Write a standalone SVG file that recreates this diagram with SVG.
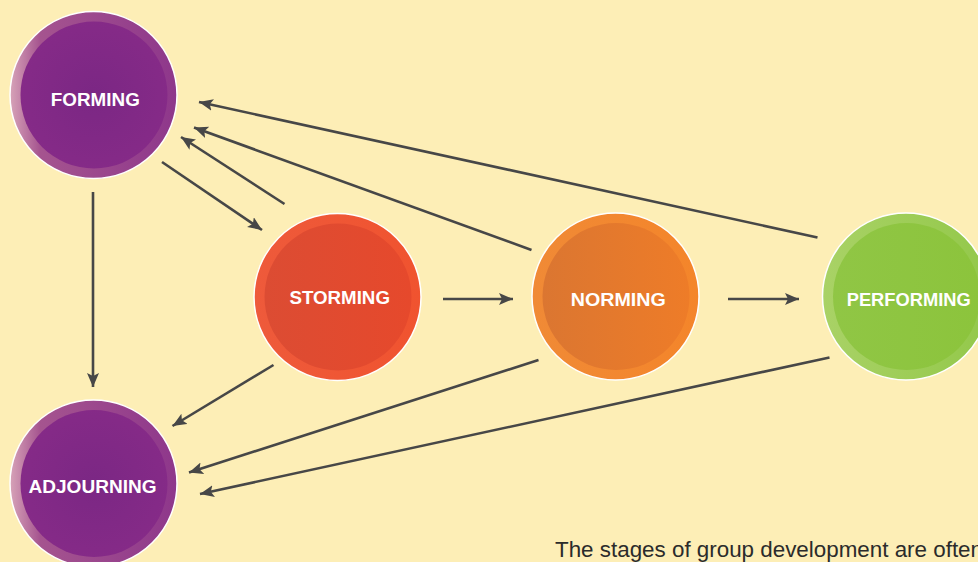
<svg xmlns="http://www.w3.org/2000/svg" width="978" height="562" viewBox="0 0 978 562">
<defs>
<style>
.lbl{font-family:"Liberation Sans",Arial,sans-serif;font-weight:bold;font-size:18.5px;fill:#ffffff;text-anchor:middle}
.cap{font-family:"Liberation Sans",Arial,sans-serif;font-size:21.5px;fill:#2b2b2b}
.con{stroke:#474747;stroke-width:2.6;fill:none;marker-end:url(#ah)}
.edge{stroke:#ffffff;stroke-width:1.5}
</style>
<marker id="ah" markerUnits="userSpaceOnUse" markerWidth="16" markerHeight="14" refX="14" refY="6" orient="auto">
<path d="M0,0 L14,6 L0,12 L3,6 Z" fill="#474747"/>
</marker>
<linearGradient id="pO" x1="0" y1="0" x2="1" y2="0">
<stop offset="0" stop-color="#d7a3b8"/><stop offset="0.18" stop-color="#a5548f"/><stop offset="1" stop-color="#8e378b"/>
</linearGradient>
<radialGradient id="pI" cx="0.5" cy="0.5" r="0.6">
<stop offset="0" stop-color="#7b2784"/><stop offset="1" stop-color="#872b88"/>
</radialGradient>
<linearGradient id="sO" x1="0" y1="0" x2="1" y2="0">
<stop offset="0" stop-color="#ee5a3b"/><stop offset="1" stop-color="#f0532f"/>
</linearGradient>
<linearGradient id="sI" x1="0" y1="0" x2="1" y2="0">
<stop offset="0" stop-color="#dc4c33"/><stop offset="1" stop-color="#e6492c"/>
</linearGradient>
<linearGradient id="nO" x1="0" y1="0" x2="1" y2="0">
<stop offset="0" stop-color="#f08a36"/><stop offset="1" stop-color="#f4852a"/>
</linearGradient>
<linearGradient id="nI" x1="0" y1="0" x2="1" y2="0">
<stop offset="0" stop-color="#db7631"/><stop offset="1" stop-color="#ee7c28"/>
</linearGradient>
<linearGradient id="gO" x1="0" y1="0" x2="1" y2="0">
<stop offset="0" stop-color="#a9d266"/><stop offset="1" stop-color="#93c84a"/>
</linearGradient>
<linearGradient id="gI" x1="0" y1="0" x2="1" y2="0">
<stop offset="0" stop-color="#90c645"/><stop offset="1" stop-color="#8cc43c"/>
</linearGradient>
</defs>
<rect width="978" height="562" fill="#fdeeb6"/>

<g id="connectors">
<line class="con" x1="93" y1="192" x2="93" y2="387"/>
<line class="con" x1="162" y1="162" x2="262" y2="230"/>
<line class="con" x1="284.5" y1="204" x2="181" y2="137"/>
<line class="con" x1="531.5" y1="250" x2="194" y2="127.5"/>
<line class="con" x1="817.5" y1="237.5" x2="199" y2="102"/>
<line class="con" x1="443" y1="299" x2="513" y2="299"/>
<line class="con" x1="728" y1="299" x2="799" y2="299"/>
<line class="con" x1="273.5" y1="365" x2="172.5" y2="426"/>
<line class="con" x1="538.5" y1="360" x2="189" y2="472.5"/>
<line class="con" x1="829.5" y1="357.5" x2="200" y2="494"/>
</g>

<g id="forming">
<circle class="edge" cx="93.5" cy="95" r="83.5" fill="url(#pO)"/>
<circle cx="94" cy="95" r="73.5" fill="url(#pI)"/>
<text class="lbl" x="95.3" y="106" textLength="89" lengthAdjust="spacingAndGlyphs">FORMING</text>
</g>

<g id="storming">
<circle class="edge" cx="337.5" cy="297" r="83.5" fill="url(#sO)"/>
<circle cx="338" cy="297" r="73.5" fill="url(#sI)"/>
<text class="lbl" x="339.7" y="304.3" textLength="100.5" lengthAdjust="spacingAndGlyphs">STORMING</text>
</g>

<g id="norming">
<circle class="edge" cx="615.5" cy="296.5" r="83.5" fill="url(#nO)"/>
<circle cx="616" cy="296.5" r="73.5" fill="url(#nI)"/>
<text class="lbl" x="618.3" y="305.5" textLength="95" lengthAdjust="spacingAndGlyphs">NORMING</text>
</g>

<g id="performing">
<circle class="edge" cx="906" cy="296.5" r="83.5" fill="url(#gO)"/>
<circle cx="906.5" cy="296.5" r="73.5" fill="url(#gI)"/>
<text class="lbl" x="908.7" y="306" textLength="124" lengthAdjust="spacingAndGlyphs">PERFORMING</text>
</g>

<g id="adjourning">
<circle class="edge" cx="93.5" cy="483.5" r="83.5" fill="url(#pO)"/>
<circle cx="94" cy="483.5" r="73.5" fill="url(#pI)"/>
<text class="lbl" x="92.5" y="493" textLength="128" lengthAdjust="spacingAndGlyphs">ADJOURNING</text>
</g>

<text class="cap" x="555" y="557" textLength="428" lengthAdjust="spacingAndGlyphs">The stages of group development are often</text>
</svg>
